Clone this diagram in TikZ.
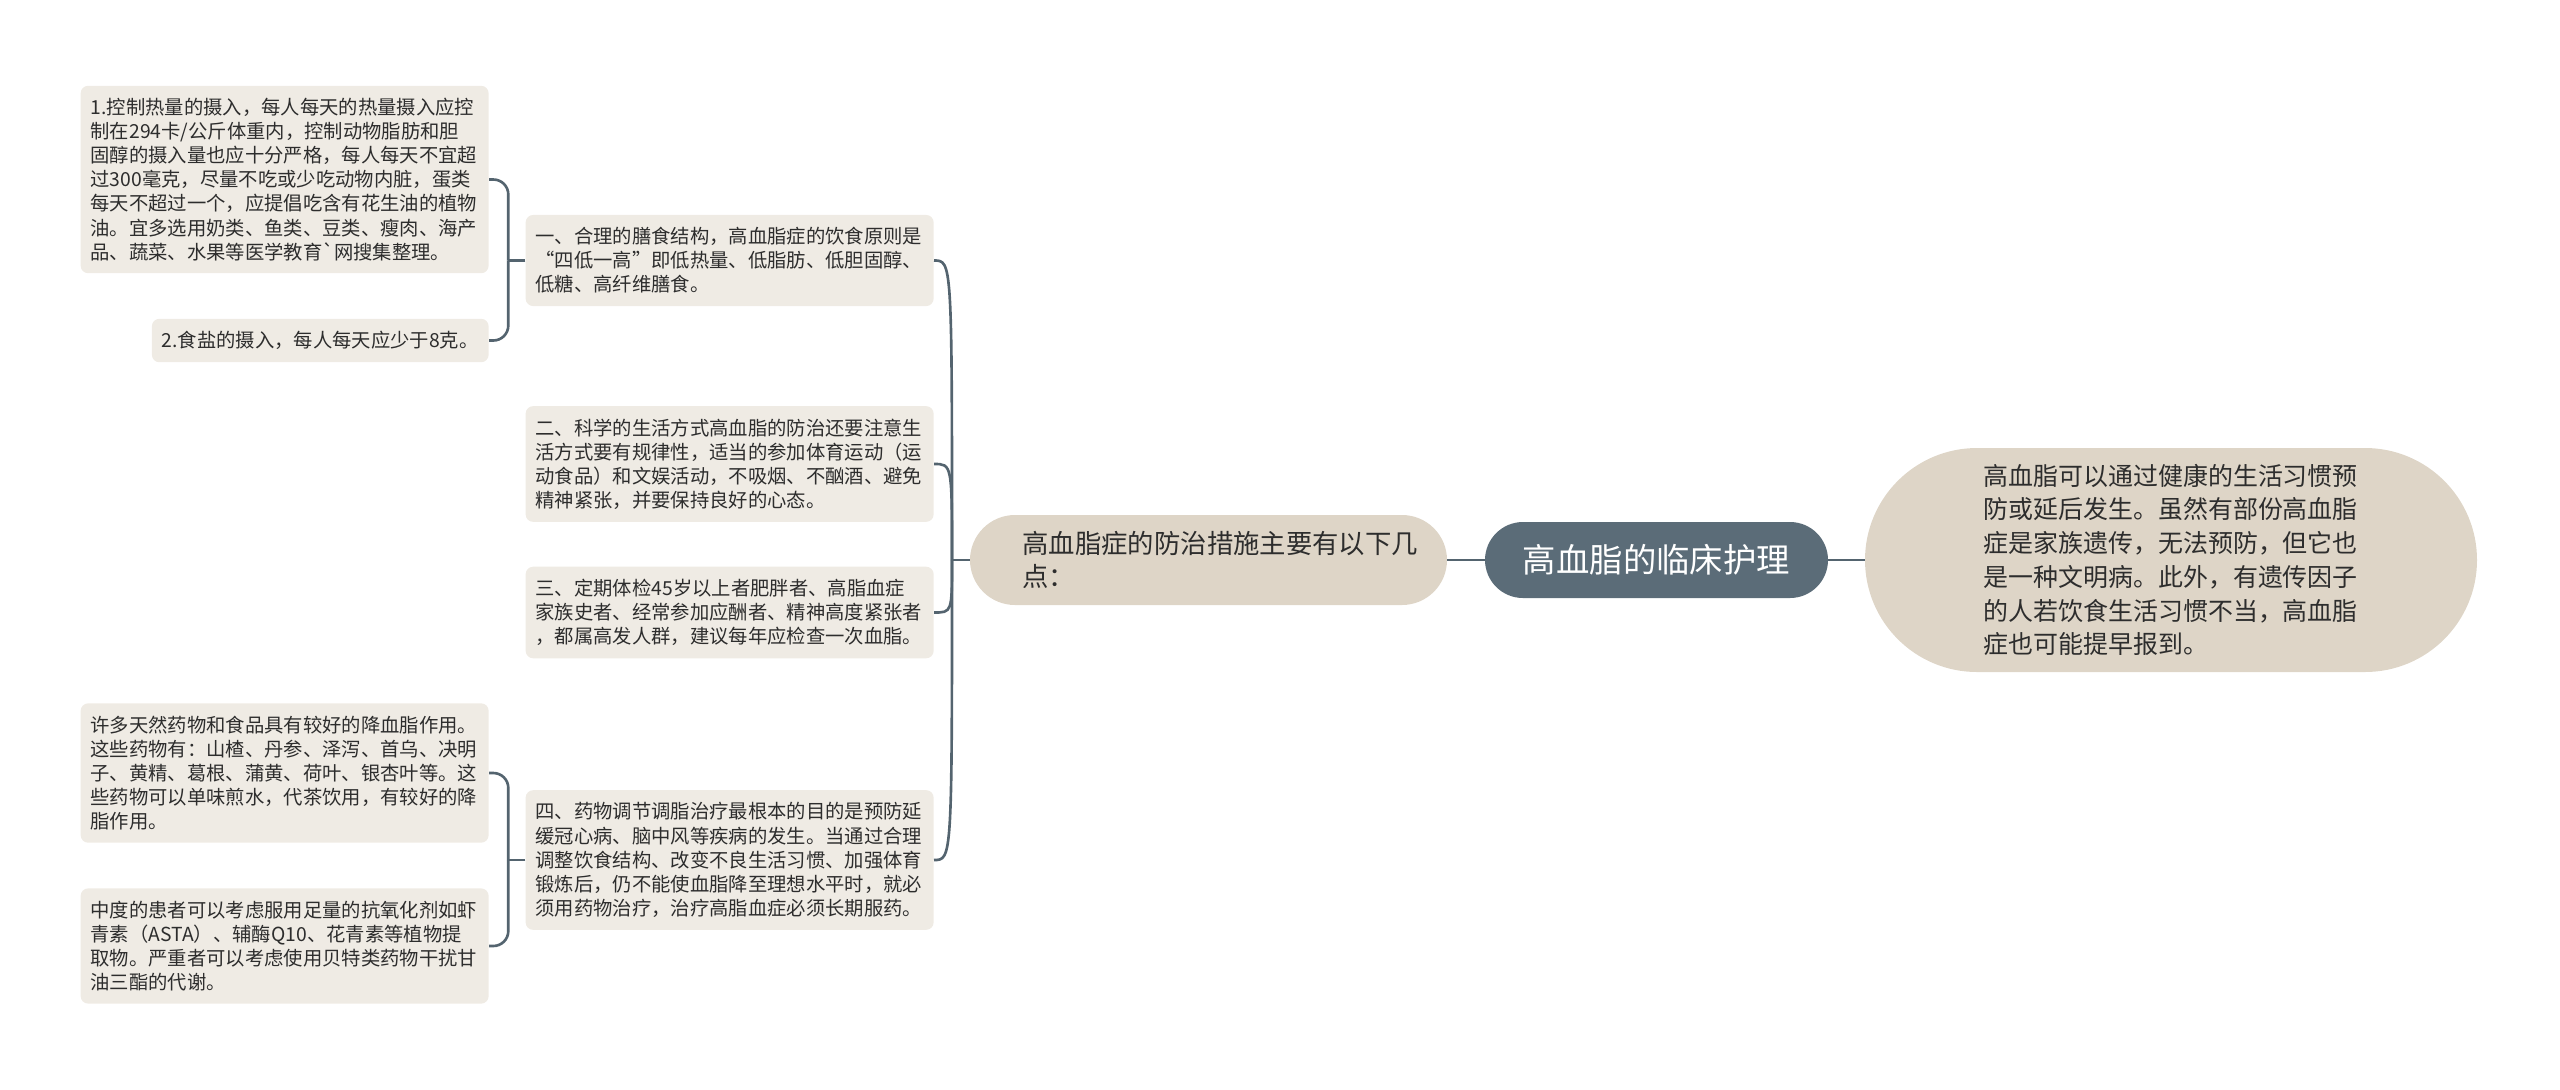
\documentclass[tikz,border=0pt]{standalone}
\usepackage{fontspec}
\setmainfont{Noto Sans CJK SC}
\usepackage{tikz}
\usetikzlibrary{calc}

\definecolor{centralfill}{RGB}{91,108,120}
\definecolor{branchfill}{RGB}{222,213,199}
\definecolor{notefill}{RGB}{239,235,228}
\definecolor{linkgray}{RGB}{84,100,111}
\definecolor{textdark}{RGB}{45,45,45}

\begin{document}
\begin{tikzpicture}[
	link/.style={color=linkgray, line width=1.5pt},
	note/.style={fill=notefill, rounded corners=0.15cm, inner xsep=0.2cm, inner ysep=0.25cm, text=textdark, align=left, font=\fontsize{11}{13.7}\selectfont},
	widenote/.style={note, text width=7.76cm},
	branch/.style={fill=branchfill, text=textdark, align=left}
]
	\useasboundingbox (0,0) rectangle (51.2,-21.78);

	% Central topic and the two nodes beside it
	\node [fill=centralfill, text=white, rounded corners=0.76cm, minimum width=6.86cm, minimum height=1.52cm, font=\fontsize{19}{23}\selectfont] (central) at (33.13,-11.2) {高血脂的临床护理};
	\node [branch, rounded corners=2.24cm, minimum width=12.24cm, minimum height=4.48cm, text width=7.5cm, font=\fontsize{14.2}{19.2}\selectfont] (causes) at (43.42,-11.2) {高血脂可以通过健康的生活习惯预\\防或延后发生。虽然有部份高血脂\\症是家族遗传，无法预防，但它也\\是一种文明病。此外，有遗传因子\\的人若饮食生活习惯不当，高血脂\\症也可能提早报到。};
	\node [branch, rounded corners=0.9cm, minimum width=9.54cm, minimum height=1.8cm, text width=7.44cm, font=\fontsize{15}{18.8}\selectfont] (measures) at (24.17,-11.2) {高血脂症的防治措施主要有以下几\\点：};

	\draw [link] (central.east) -- (causes.west);
	\draw [link] (central.west) -- (measures.east);

	% The four measures
	\node [widenote, anchor=east] (diet) at (18.68,-5.21) {一、合理的膳食结构，高血脂症的饮食原则是\\“四低一高”即低热量、低脂肪、低胆固醇、\\低糖、高纤维膳食。};
	\node [widenote, anchor=east] (life) at (18.68,-9.28) {二、科学的生活方式高血脂的防治还要注意生\\活方式要有规律性，适当的参加体育运动（运\\动食品）和文娱活动，不吸烟、不酗酒、避免\\精神紧张，并要保持良好的心态。};
	\node [widenote, anchor=east] (check) at (18.68,-12.25) {三、定期体检45岁以上者肥胖者、高脂血症\\家族史者、经常参加应酬者、精神高度紧张者\\，都属高发人群，建议每年应检查一次血脂。};
	\node [widenote, anchor=east] (drug) at (18.68,-17.2) {四、药物调节调脂治疗最根本的目的是预防延\\缓冠心病、脑中风等疾病的发生。当通过合理\\调整饮食结构、改变不良生活习惯、加强体育\\锻炼后，仍不能使血脂降至理想水平时，就必\\须用药物治疗，治疗高脂血症必须长期服药。};

	\coordinate (trunk) at (19.04,-11.2);
	\draw [link] (measures.west) -- (trunk);
	\draw [link] (trunk) .. controls (trunk |- diet.east) .. (diet.east);
	\draw [link] (trunk) .. controls (trunk |- life.east) .. (life.east);
	\draw [link] (trunk) .. controls (trunk |- check.east) .. (check.east);
	\draw [link] (trunk) .. controls (trunk |- drug.east) .. (drug.east);

	% Details under the first and the fourth measure
	\node [widenote, anchor=east] (calories) at (9.78,-3.59) {1.控制热量的摄入，每人每天的热量摄入应控\\制在294卡/公斤体重内，控制动物脂肪和胆\\固醇的摄入量也应十分严格，每人每天不宜超\\过300毫克，尽量不吃或少吃动物内脏，蛋类\\每天不超过一个，应提倡吃含有花生油的植物\\油。宜多选用奶类、鱼类、豆类、瘦肉、海产\\品、蔬菜、水果等医学教育\textasciigrave 网搜集整理。};
	\node [note, anchor=east] (salt) at (9.78,-6.81) {2.食盐的摄入，每人每天应少于8克。};
	\node [widenote, anchor=east] (herbs) at (9.78,-15.46) {许多天然药物和食品具有较好的降血脂作用。\\这些药物有：山楂、丹参、泽泻、首乌、决明\\子、黄精、葛根、蒲黄、荷叶、银杏叶等。这\\些药物可以单味煎水，代茶饮用，有较好的降\\脂作用。};
	\node [widenote, anchor=east] (extracts) at (9.78,-18.92) {中度的患者可以考虑服用足量的抗氧化剂如虾\\青素（ASTA）、辅酶Q10、花青素等植物提\\取物。严重者可以考虑使用贝特类药物干扰甘\\油三酯的代谢。};

	\coordinate (dietfork) at ($(diet.west)+(-0.34,0)$);
	\draw [link] (diet.west) -- (dietfork);
	\draw [link, rounded corners=0.3cm] (dietfork) |- (calories.east);
	\draw [link, rounded corners=0.3cm] (dietfork) |- (salt.east);

	\coordinate (drugfork) at ($(drug.west)+(-0.34,0)$);
	\draw [link] (drug.west) -- (drugfork);
	\draw [link, rounded corners=0.3cm] (drugfork) |- (herbs.east);
	\draw [link, rounded corners=0.3cm] (drugfork) |- (extracts.east);
\end{tikzpicture}
\end{document}
